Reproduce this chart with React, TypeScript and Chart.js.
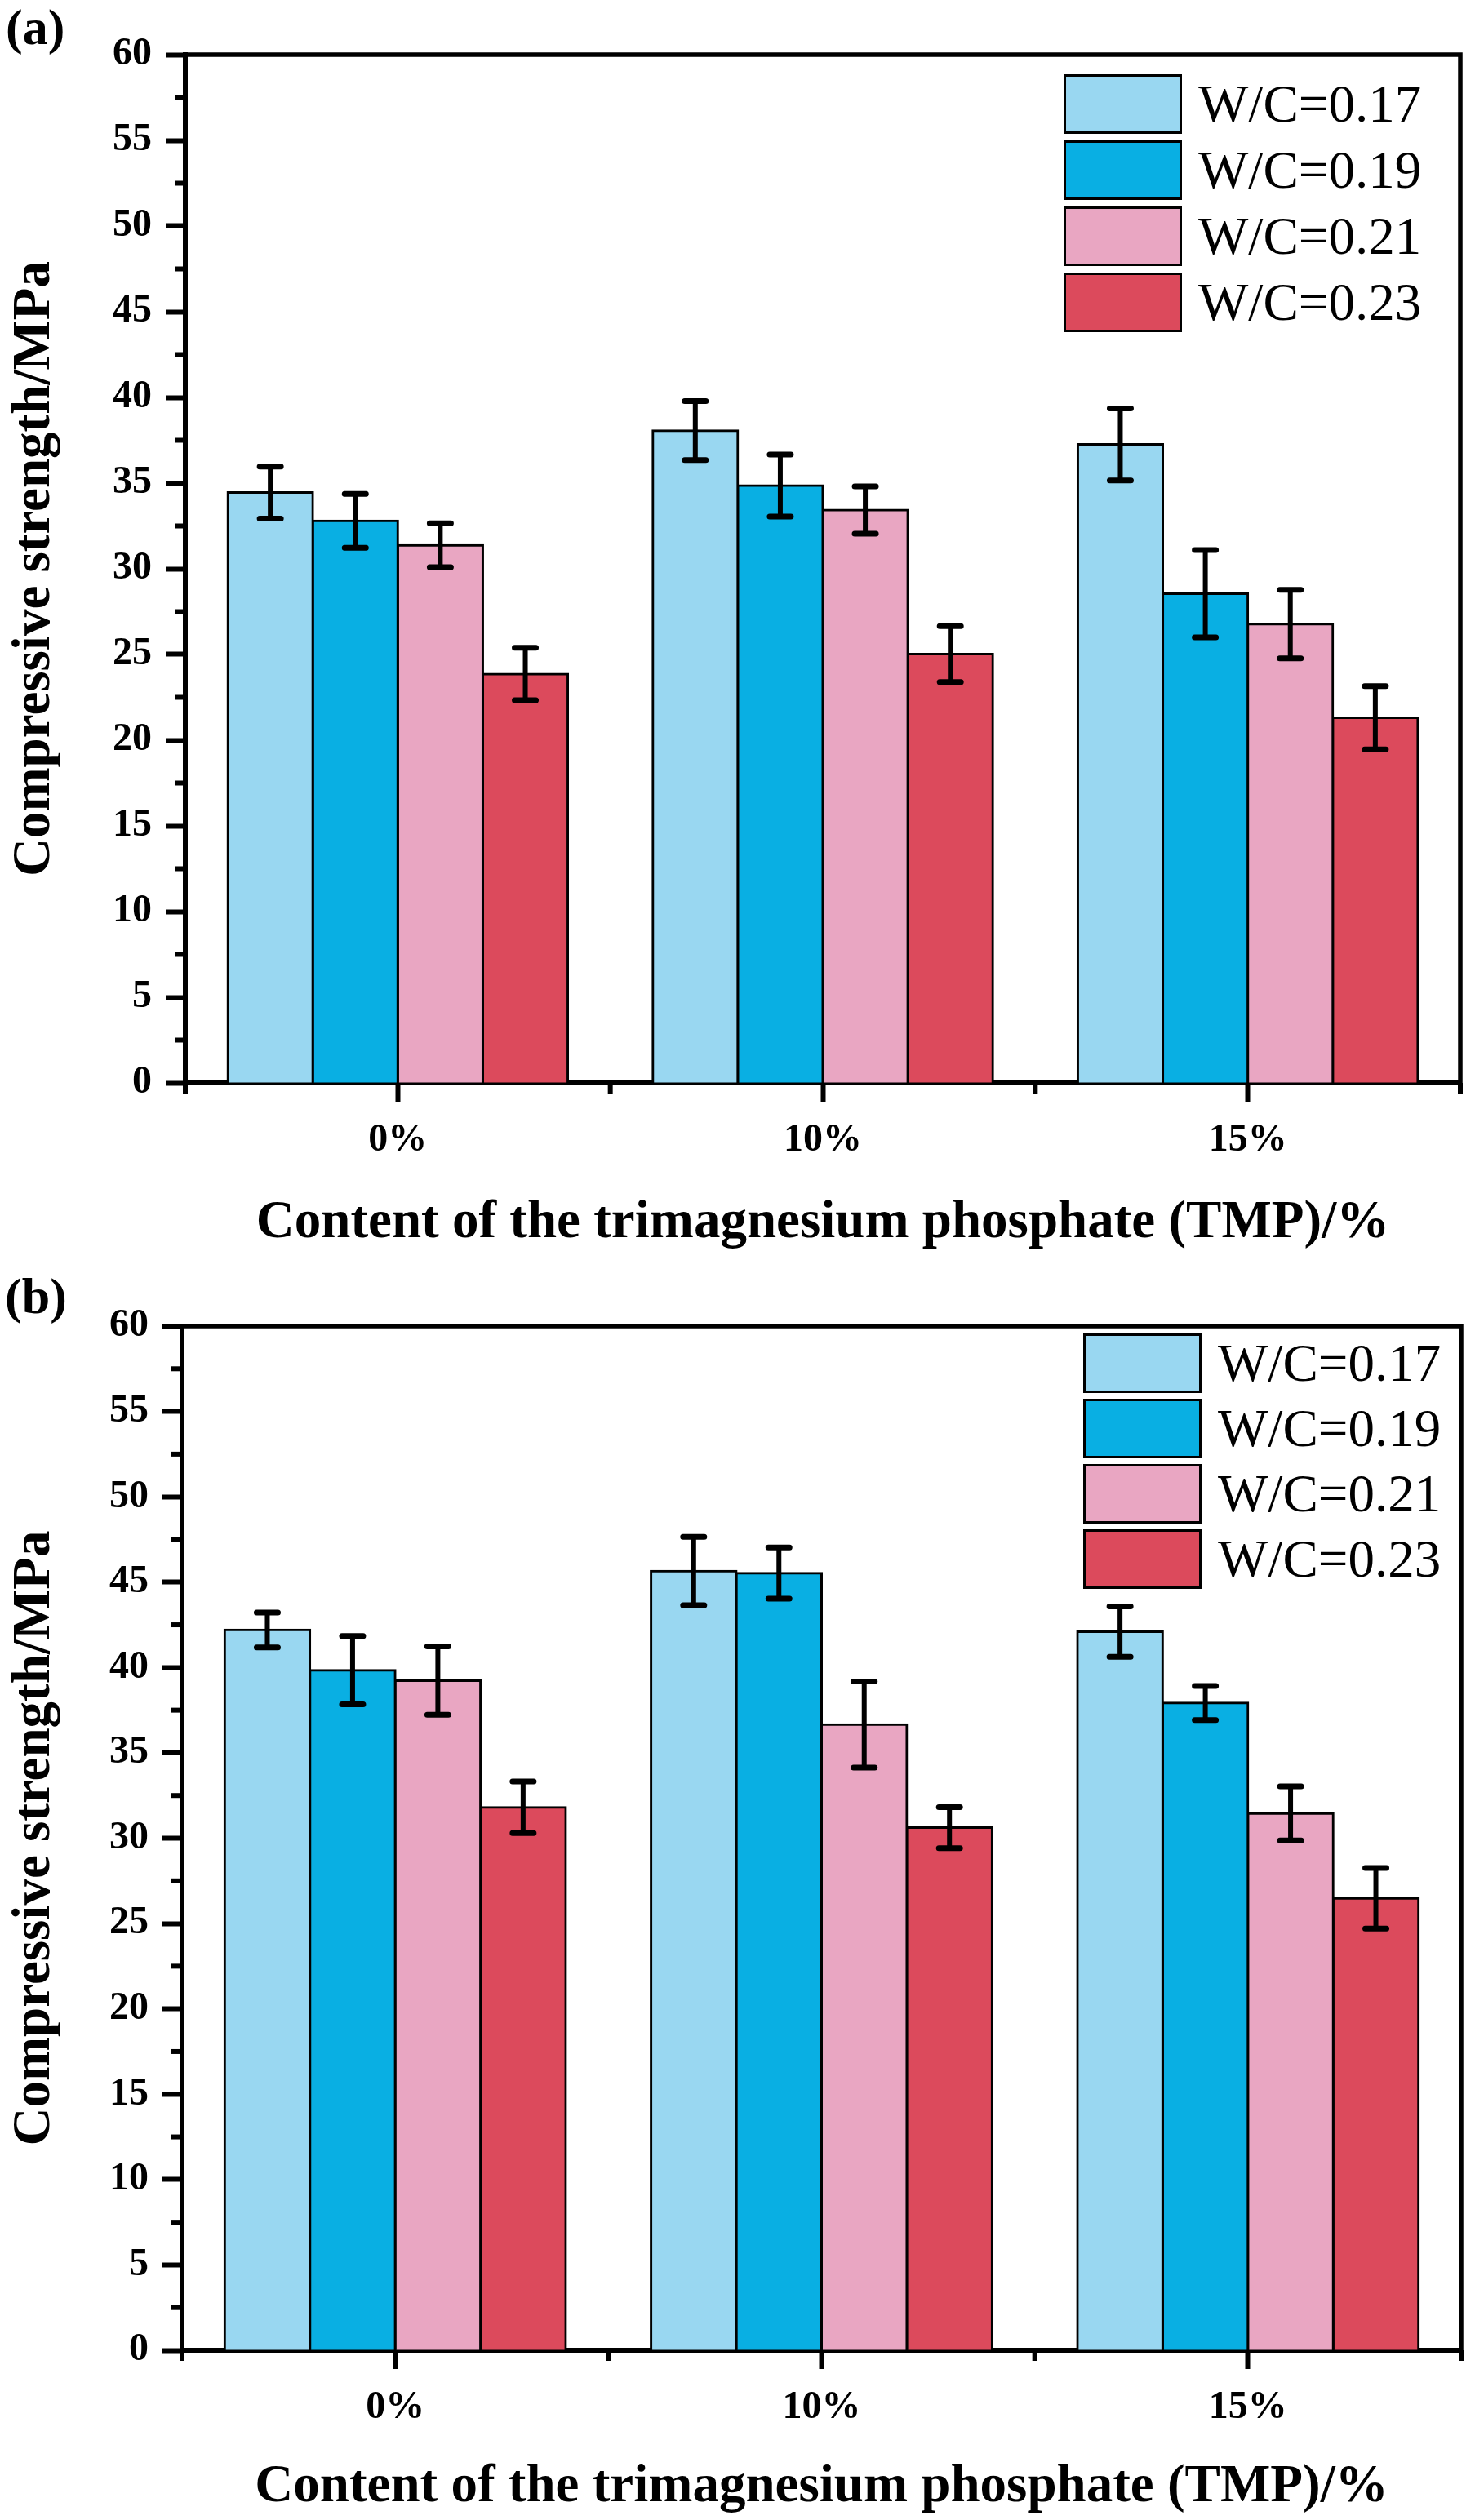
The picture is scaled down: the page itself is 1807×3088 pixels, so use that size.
import React, { useEffect, useRef } from 'react';
import { Chart, registerables } from 'chart.js';

Chart.register(...registerables);

// ---------- data ----------
const categories = ['0%', '10%', '15%'];
const seriesLabels = ['W/C=0.17', 'W/C=0.19', 'W/C=0.21', 'W/C=0.23'];
const seriesColors = ['#99D7F1', '#09AFE3', '#E9A6C2', '#DC4A5C'];
const yMin = 0;
const yMax = 60;
const yStep = 5;
const xTitle = 'Content of the trimagnesium phosphate (TMP)/%';
const yTitle = 'Compressive strength/MPa';

// panel (a)
const a017 = [34.45, 38.06, 37.26];
const a019 = [32.8, 34.86, 28.55];
const a021 = [31.37, 33.43, 26.77];
const a023 = [23.86, 25.02, 21.31];
const a017Err = [1.52, 1.72, 2.1];
const a019Err = [1.57, 1.81, 2.55];
const a021Err = [1.28, 1.38, 2.0];
const a023Err = [1.53, 1.63, 1.85];

// panel (b)
const b017 = [42.2, 45.65, 42.1];
const b019 = [39.84, 45.53, 37.92];
const b021 = [39.23, 36.66, 31.45];
const b023 = [31.81, 30.62, 26.48];
const b017Err = [1.02, 2.0, 1.48];
const b019Err = [2.0, 1.5, 1.0];
const b021Err = [2.0, 2.52, 1.58];
const b023Err = [1.51, 1.2, 1.78];

const FONT = '"Liberation Serif", "Times New Roman", serif';

const decorPlugin = {
  id: 'decor',
  afterDatasetsDraw(chart: any) {
    const ctx = chart.ctx;
    const yScale = chart.scales.y;
    ctx.save();
    ctx.strokeStyle = '#000';
    chart.data.datasets.forEach((ds: any, i: number) => {
      const meta = chart.getDatasetMeta(i);
      meta.data.forEach((bar: any, j: number) => {
        const v = ds.data[j];
        const e = ds.errors[j];
        const x = bar.x;
        const yT = yScale.getPixelForValue(v + e);
        const yB = yScale.getPixelForValue(v - e);
        ctx.lineWidth = 6;
        ctx.lineCap = 'butt';
        ctx.beginPath();
        ctx.moveTo(x, yT);
        ctx.lineTo(x, yB);
        ctx.stroke();
        ctx.lineWidth = 7;
        ctx.lineCap = 'round';
        ctx.beginPath();
        ctx.moveTo(x - 13, yT);
        ctx.lineTo(x + 13, yT);
        ctx.moveTo(x - 13, yB);
        ctx.lineTo(x + 13, yB);
        ctx.stroke();
      });
    });
    ctx.restore();
  },
  afterDraw(chart: any, _args: any, opts: any) {
    const ctx = chart.ctx;
    const { left, right, top, bottom } = chart.chartArea;
    const yScale = chart.scales.y;
    const xScale = chart.scales.x;
    ctx.save();
    ctx.strokeStyle = '#000';
    ctx.lineCap = 'butt';
    // frame top & right
    ctx.lineWidth = 5.5;
    ctx.beginPath();
    ctx.moveTo(left - 3, top);
    ctx.lineTo(right, top);
    ctx.lineTo(right, bottom + 3);
    ctx.stroke();
    // minor y ticks
    ctx.lineWidth = 6;
    for (let v = yMin + yStep / 2; v < yMax; v += yStep) {
      const y = yScale.getPixelForValue(v);
      ctx.beginPath();
      ctx.moveTo(left - 13, y);
      ctx.lineTo(left, y);
      ctx.stroke();
    }
    // minor x ticks at category boundaries
    for (let k = 0; k <= categories.length; k++) {
      const x = xScale.getPixelForValue(k - 0.5);
      ctx.beginPath();
      ctx.moveTo(x, bottom);
      ctx.lineTo(x, bottom + 13);
      ctx.stroke();
    }
    // legend
    const bw = 145;
    const bh = 73;
    chart.data.datasets.forEach((ds: any, i: number) => {
      const bx = right + opts.legendDx;
      const by = top + opts.legendDy + i * opts.legendStep;
      ctx.fillStyle = ds.backgroundColor;
      ctx.fillRect(bx, by, bw, bh);
      ctx.lineWidth = 3;
      ctx.strokeStyle = '#000';
      ctx.strokeRect(bx + 1.5, by + 1.5, bw - 3, bh - 3);
      ctx.fillStyle = '#000';
      ctx.font = `65px ${FONT}`;
      ctx.textAlign = 'left';
      ctx.textBaseline = 'alphabetic';
      ctx.fillText(ds.label, bx + bw + 20, by + bh / 2 + 21.5);
    });
    // panel label
    ctx.fillStyle = '#000';
    ctx.font = `bold 62px ${FONT}`;
    ctx.textAlign = 'left';
    ctx.textBaseline = 'alphabetic';
    ctx.fillText(opts.panelLabel, opts.panelX, opts.panelY);
    ctx.restore();
  },
};

type PanelSpec = {
  series: number[][];
  errors: number[][];
  padTop: number;
  padRight: number;
  yWidth: number;
  xHeight: number;
  xTitlePad: number;
  legendDx: number;
  legendDy: number;
  legendStep: number;
  panelLabel: string;
  panelX: number;
  panelY: number;
};

function buildConfig(p: PanelSpec): any {
  const tickFont = { family: FONT, size: 48, weight: 'bold' };
  const titleFont = { family: FONT, size: 65, weight: 'bold' };
  return {
    type: 'bar',
    data: {
      labels: categories,
      datasets: p.series.map((vals, i) => ({
        label: seriesLabels[i],
        data: vals,
        errors: p.errors[i],
        backgroundColor: seriesColors[i],
        borderColor: '#000',
        borderWidth: 3,
        borderSkipped: 'start',
        inflateAmount: 1.5,
        categoryPercentage: 0.8,
        barPercentage: 1.0,
      })),
    },
    options: {
      animation: false,
      responsive: false,
      devicePixelRatio: 1,
      layout: { padding: { top: p.padTop, right: p.padRight, left: 0, bottom: 0 } },
      plugins: {
        legend: { display: false },
        tooltip: { enabled: false },
        decor: {
          legendDx: p.legendDx,
          legendDy: p.legendDy,
          legendStep: p.legendStep,
          panelLabel: p.panelLabel,
          panelX: p.panelX,
          panelY: p.panelY,
        },
      },
      scales: {
        x: {
          type: 'category',
          offset: true,
          z: 1,
          afterFit: (s: any) => {
            s.height = p.xHeight;
          },
          grid: {
            display: true,
            drawOnChartArea: false,
            offset: false,
            tickLength: 23,
            tickWidth: 6,
            tickColor: '#000',
          },
          border: { display: true, width: 6, color: '#000' },
          ticks: { color: '#000', font: tickFont, padding: 19, maxRotation: 0 },
          title: {
            display: true,
            text: xTitle,
            color: '#000',
            font: titleFont,
            padding: { top: 0, bottom: p.xTitlePad },
          },
        },
        y: {
          min: yMin,
          max: yMax,
          z: 1,
          afterFit: (s: any) => {
            s.width = p.yWidth;
          },
          ticks: { stepSize: yStep, color: '#000', font: tickFont, padding: 17 },
          grid: {
            display: true,
            drawOnChartArea: false,
            tickLength: 24,
            tickWidth: 6,
            tickColor: '#000',
          },
          border: { display: true, width: 6, color: '#000' },
          title: {
            display: true,
            text: yTitle,
            color: '#000',
            font: titleFont,
            padding: { top: 4, bottom: 0 },
          },
        },
      },
    },
    plugins: [decorPlugin],
  };
}

const panelA: PanelSpec = {
  series: [a017, a019, a021, a023],
  errors: [a017Err, a019Err, a021Err, a023Err],
  padTop: 67,
  padRight: 18,
  yWidth: 227,
  xHeight: 217,
  xTitlePad: 6,
  legendDx: -486,
  legendDy: 24,
  legendStep: 81,
  panelLabel: '(a)',
  panelX: 7,
  panelY: 54,
};

const panelB: PanelSpec = {
  series: [b017, b019, b021, b023],
  errors: [b017Err, b019Err, b021Err, b023Err],
  padTop: 81,
  padRight: 17,
  yWidth: 223,
  xHeight: 208,
  xTitlePad: 1,
  legendDx: -463,
  legendDy: 9,
  legendStep: 80,
  panelLabel: '(b)',
  panelX: 6,
  panelY: 65,
};

const W = 1807;
const H = 1544;

function Panel({ spec, top }: { spec: PanelSpec; top: number }) {
  const ref = useRef<HTMLCanvasElement>(null);
  useEffect(() => {
    let chart: Chart | null = null;
    let cancelled = false;
    const make = () => {
      if (cancelled || !ref.current) return;
      chart = new Chart(ref.current, buildConfig(spec));
    };
    const fonts: any = (document as any).fonts;
    if (fonts && fonts.load) {
      Promise.all([
        fonts.load(`bold 48px "Liberation Serif"`),
        fonts.load(`65px "Liberation Serif"`),
      ]).then(make, make);
    } else {
      make();
    }
    return () => {
      cancelled = true;
      if (chart) chart.destroy();
    };
  }, [spec]);
  return (
    <canvas
      ref={ref}
      width={W}
      height={H}
      style={{ position: 'absolute', left: 0, top, width: W, height: H, display: 'block' }}
    />
  );
}

export default function App() {
  return (
    <div style={{ position: 'absolute', left: 0, top: 0, width: W, height: 2 * H, background: '#fff' }}>
      <Panel spec={panelA} top={0} />
      <Panel spec={panelB} top={H} />
    </div>
  );
}
